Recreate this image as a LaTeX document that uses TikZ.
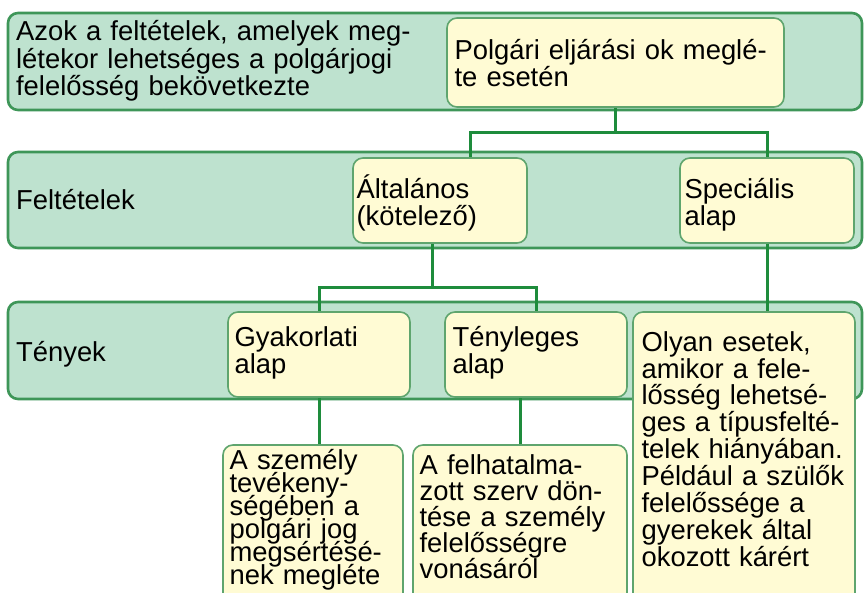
\documentclass[tikz,border=0pt]{standalone}
\usepackage{fontspec}
\setmainfont{Liberation Sans}
\usepackage{xcolor}
\usetikzlibrary{fit,calc}
\definecolor{bandfill}{RGB}{190,226,207}
\definecolor{banddraw}{RGB}{62,150,88}
\definecolor{boxfill}{RGB}{255,251,212}
\definecolor{boxdraw}{RGB}{95,165,110}
\definecolor{linecol}{RGB}{30,140,60}
\setlength{\lineskiplimit}{-20pt}

\begin{document}
\begin{tikzpicture}[x=0.5pt, y=-0.5pt, band/.style={draw=banddraw, fill=bandfill, line width=1.3pt, rounded corners=5pt, inner sep=0pt}, box/.style={draw=boxdraw, fill=boxfill, line width=0.8pt, rounded corners=5pt, inner sep=0pt}, linesp/.style={execute at begin node={\setlength{\baselineskip}{#1}\setlength{\lineskiplimit}{-20pt}}}, txt/.style={anchor=base west, inner sep=0pt, align=left, text width=250pt, font=\fontsize{13.7}{13.8}\selectfont, linesp=13.6pt}, conn/.style={draw=linecol, line width=1.5pt}]
\useasboundingbox (0,0) rectangle (864,593);
\clip (0,0) rectangle (864,593);
\fill[white] (0,0) rectangle (864,593);
% bands
\node[band, fit={(8,13) (862,110)}] (bandA) {};
\node[band, fit={(8,152) (862,248)}] (bandB) {};
\node[band, fit={(8,302) (862,399)}] (bandC) {};
% boxes
\node[box, fit={(447,18) (784,107)}] (polg) {};
\node[box, fit={(353,158) (527,243)}] (altal) {};
\node[box, fit={(680,158) (854,243)}] (spec) {};
\node[box, fit={(228,312) (410,397)}] (gyak) {};
\node[box, fit={(445,312) (627,397)}] (teny) {};
\node[box, fit={(633,312) (855,620)}] (olyan) {};
\node[box, fit={(223,445) (403,620)}] (szem) {};
\node[box, fit={(413,445) (627,620)}] (felh) {};
% connectors
\draw[conn] (polg.south) -- ++(0,25) coordinate (j1);
\draw[conn] ([xshift=15pt]altal.north) |- (j1) -| (spec.north);
\draw[conn] ([xshift=-4pt]altal.south) -- ++(0,44) coordinate (j2);
\draw[conn] (gyak.north) |- (j2) -| (teny.north);
\draw[conn] (gyak.south) -- (gyak.south |- szem.north);
\draw[conn] (felh.north) -- (felh.north |- teny.south);
\draw[conn] (spec.south) -- (spec.south |- olyan.north);
% texts
\node[txt, linesp=13.75pt] (bandAtxt) at ($(bandA.north west)+(9,29)$) {Azok a feltételek, amelyek meg-\\létekor lehetséges a polgárjogi\\felelősség bekövetkezte};
\node[txt] (bandBtxt) at ($(bandB.west)+(9,10)$) {Feltételek};
\node[txt] (bandCtxt) at ($(bandC.west)+(9,11.5)$) {Tények};
\node[txt] (polgtxt) at ($(polg.north west)+(8,42)$) {Polgári eljárási ok meglé-\\te esetén};
\node[txt] (altaltxt) at ($(altal.north west)+(4,41)$) {Általános\\(kötelező)};
\node[txt] (spectxt) at ($(spec.north west)+(5,41)$) {Speciális\\alap};
\node[txt] (gyaktxt) at ($(gyak.north west)+(7,35)$) {Gyakorlati\\alap};
\node[txt] (tenytxt) at ($(teny.north west)+(8,35)$) {Tényleges\\alap};
\node[txt, linesp=13.45pt] (olyantxt) at ($(olyan.north west)+(9,40)$) {Olyan esetek,\\amikor a fele-\\lősség lehetsé-\\ges a típusfelté-\\telek hiányában.\\Például a szülők\\felelőssége a\\gyerekek által\\okozott kárért};
\node[txt, linesp=11.5pt] (szemtxt) at ($(szem.north west)+(7,25)$) {A személy\\tevékeny-\\ségében a\\polgári jog\\megsértésé-\\nek megléte};
\node[txt, linesp=13pt] (felhtxt) at ($(felh.north west)+(7,30)$) {A felhatalma-\\zott szerv dön-\\tése a személy\\felelősségre\\vonásáról};
\end{tikzpicture}
\end{document}
